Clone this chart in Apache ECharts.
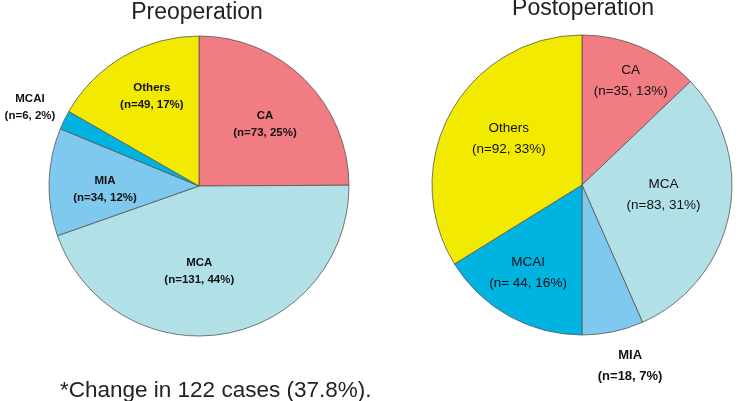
<!DOCTYPE html>
<html>
<head>
<meta charset="utf-8">
<script src="https://cdn.jsdelivr.net/npm/echarts@6/dist/echarts.min.js"></script>
<style>
  html, body { margin: 0; padding: 0; background: #fff; }
  #chart { width: 742px; height: 401px; }
</style>
</head>
<body>
<div id="chart"></div>
<script>
// data
const categories = ["CA", "MCA", "MIA", "MCAI", "Others"];
const preCounts = [73, 131, 34, 6, 49];
const prePercents = [25, 44, 12, 2, 17];
const postCounts = [35, 83, 18, 44, 92];
const postPercents = [13, 31, 7, 16, 33];
const colors = ["#F27C84", "#B1E0E6", "#7FC8EE", "#00B3E0", "#F2EA00"];

// per slice label nudges (from default inside position)
const preOffsets = [[11, -6], [-13, 8], [-16, 5], [-99, -44], [-8, -22]];
const postOffsets = [[18, -33], [5, -5], [32, 105], [-16, 20], [-5, -8]];

let myChart = echarts.init(document.getElementById("chart"));

function makeData(counts, percents, spacer) {
  return categories.map(function (name, i) {
    return {
      name: name,
      value: counts[i],
      pct: percents[i],
      spacer: spacer && name === "MCAI" ? " " : "",
      itemStyle: { color: colors[i] },
    };
  });
}

function makeSeries(center, counts, percents, offsets, bigText, outsideIdx, spacer) {
  let data = makeData(counts, percents, spacer);
  return {
    type: "pie",
    center: center,
    radius: 150,
    startAngle: 90,
    clockwise: true,
    silent: true,
    animation: false,
    itemStyle: { borderColor: "#555", borderWidth: 0.8 },
    label: {
      show: true,
      position: "inside",
      formatter: function (p) {
        let d = data[p.dataIndex];
        return p.name + "\n(n=" + d.spacer + p.value + ", " + d.pct + "%)";
      },
      fontFamily: "Liberation Sans, Arial, sans-serif",
      fontSize: bigText ? 13.5 : 11.5,
      fontWeight: bigText ? 500 : "bold",
      lineHeight: bigText ? 21 : 17,
      color: "#111",
    },
    labelLine: { show: false },
    labelLayout: function (params) {
      let o = offsets[params.dataIndex];
      return { dx: o[0], dy: o[1] };
    },
    data: data.map(function (d, i) {
      if (i === outsideIdx) {
        return Object.assign({}, d, {
          label: { fontWeight: "bold", fontSize: bigText ? 13 : 11.5 },
        });
      }
      return d;
    }),
  };
}

let titleFont = { fontFamily: "Liberation Sans, Arial, sans-serif", fontWeight: "normal", color: "#222" };

let option = {
  backgroundColor: "#fff",
  title: [
    {
      text: "Preoperation",
      left: 192,
      top: -4,
      textAlign: "center",
      textStyle: Object.assign({ fontSize: 23 }, titleFont),
    },
    {
      text: "Postoperation",
      left: 578,
      top: -8,
      textAlign: "center",
      textStyle: Object.assign({ fontSize: 23 }, titleFont),
    },
    {
      text: "*Change in 122 cases (37.8%).",
      left: 55,
      top: 374,
      textStyle: Object.assign({ fontSize: 22.5 }, titleFont),
    },
  ],
  series: [
    makeSeries([199, 186], preCounts, prePercents, preOffsets, false, 3, false),
    makeSeries([582, 185], postCounts, postPercents, postOffsets, true, 2, true),
  ],
};

myChart.setOption(option);
</script>
</body>
</html>
